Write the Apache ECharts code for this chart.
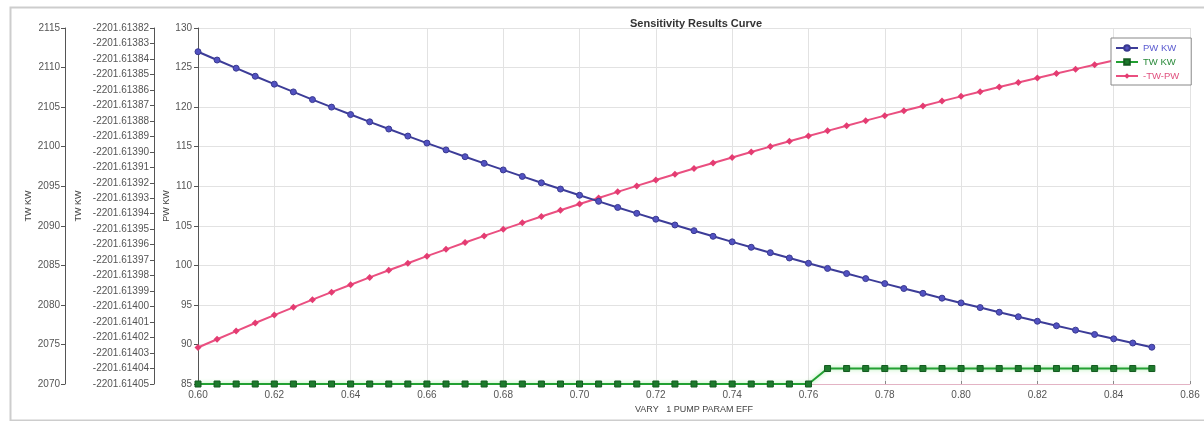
<!DOCTYPE html>
<html>
<head>
<meta charset="utf-8">
<script src="https://cdn.jsdelivr.net/npm/echarts@6/dist/echarts.min.js"></script>
<style>
  html, body { margin: 0; padding: 0; background: #fff; }
  #chart { width: 1204px; height: 421px; }
</style>
</head>
<body>
<div id="chart"></div>
<script>
// Pump efficiency sweep (x) and resulting powers
const effVals = [0.600, 0.605, 0.610, 0.615, 0.620, 0.625, 0.630, 0.635, 0.640, 0.645,
  0.650, 0.655, 0.660, 0.665, 0.670, 0.675, 0.680, 0.685, 0.690, 0.695,
  0.700, 0.705, 0.710, 0.715, 0.720, 0.725, 0.730, 0.735, 0.740, 0.745,
  0.750, 0.755, 0.760, 0.765, 0.770, 0.775, 0.780, 0.785, 0.790, 0.795,
  0.800, 0.805, 0.810, 0.815, 0.820, 0.825, 0.830, 0.835, 0.840, 0.845, 0.850];

const pwKw = [127.00, 125.95, 124.92, 123.90, 122.90, 121.92, 120.95, 120.00, 119.06, 118.14,
  117.23, 116.34, 115.45, 114.59, 113.73, 112.89, 112.06, 111.24, 110.43, 109.64,
  108.86, 108.09, 107.32, 106.57, 105.83, 105.10, 104.38, 103.67, 102.97, 102.28,
  101.60, 100.93, 100.26, 99.61, 98.96, 98.32, 97.69, 97.07, 96.46, 95.85,
  95.25, 94.66, 94.07, 93.50, 92.93, 92.36, 91.81, 91.26, 90.71, 90.18, 89.65];

const twKw = [-2201.61405, -2201.61405, -2201.61405, -2201.61405, -2201.61405, -2201.61405, -2201.61405, -2201.61405, -2201.61405, -2201.61405,
  -2201.61405, -2201.61405, -2201.61405, -2201.61405, -2201.61405, -2201.61405, -2201.61405, -2201.61405, -2201.61405, -2201.61405,
  -2201.61405, -2201.61405, -2201.61405, -2201.61405, -2201.61405, -2201.61405, -2201.61405, -2201.61405, -2201.61405, -2201.61405,
  -2201.61405, -2201.61405, -2201.61405, -2201.61404, -2201.61404, -2201.61404, -2201.61404, -2201.61404, -2201.61404, -2201.61404,
  -2201.61404, -2201.61404, -2201.61404, -2201.61404, -2201.61404, -2201.61404, -2201.61404, -2201.61404, -2201.61404, -2201.61404, -2201.61404];

const negTwPw = [2074.61, 2075.66, 2076.69, 2077.71, 2078.71, 2079.69, 2080.66, 2081.61, 2082.55, 2083.47,
  2084.38, 2085.27, 2086.16, 2087.02, 2087.88, 2088.72, 2089.55, 2090.37, 2091.18, 2091.97,
  2092.75, 2093.52, 2094.29, 2095.04, 2095.78, 2096.51, 2097.23, 2097.94, 2098.64, 2099.33,
  2100.01, 2100.68, 2101.35, 2102.00, 2102.65, 2103.29, 2103.92, 2104.54, 2105.15, 2105.76,
  2106.36, 2106.95, 2107.54, 2108.11, 2108.68, 2109.25, 2109.80, 2110.35, 2110.90, 2111.43, 2111.96];

const seriesNames = ['PW KW', 'TW KW', '-TW-PW'];
const axisNames = ['PW KW', 'TW KW', 'TW KW'];

const pairs = ys => effVals.map((x, i) => [x, ys[i]]);

const labelStyle = { fontFamily: 'Liberation Sans', fontSize: 10, color: '#555' };
const nameStyle = { fontFamily: 'Liberation Sans', fontSize: 9, color: '#444' };
const axisLine = { show: true, lineStyle: { color: '#555', width: 1 } };
const axisTick = { show: true, length: 4, lineStyle: { color: '#555' } };

const chart = echarts.init(document.getElementById('chart'), null, { renderer: 'canvas' });

chart.setOption({
  animation: false,
  backgroundColor: '#fff',
  graphic: [{
    type: 'rect',
    left: 8, top: 5,
    shape: { x: 0, y: 0, width: 1205, height: 413 },
    style: { fill: 'none', stroke: '#cdcdcd', lineWidth: 2 },
    silent: true, z: -10
  }],
  title: {
    text: 'Sensitivity Results Curve',
    left: 691, top: 13, textAlign: 'center',
    textStyle: { fontFamily: 'Liberation Sans', fontSize: 11, fontWeight: 'bold', color: '#333' }
  },
  legend: {
    orient: 'vertical',
    left: 1111, top: 38,
    padding: [5, 12, 4, 4],
    itemGap: 4,
    itemWidth: 22, itemHeight: 7,
    borderColor: '#888', borderWidth: 1,
    backgroundColor: '#fff',
    data: [
      { name: seriesNames[0], textStyle: { color: '#5a5ad0' } },
      { name: seriesNames[1], textStyle: { color: '#2a8a3a' } },
      { name: seriesNames[2], textStyle: { color: '#e0507e' } }
    ],
    textStyle: { fontFamily: 'Liberation Sans', fontSize: 9.5 }
  },
  grid: { left: 198, right: 14, top: 28, bottom: 37, containLabel: false },
  xAxis: {
    type: 'value',
    min: 0.60, max: 0.86, interval: 0.02,
    name: 'VARY   1 PUMP PARAM EFF',
    nameLocation: 'middle', nameGap: 20,
    nameTextStyle: nameStyle,
    axisLine: { show: true, lineStyle: { color: '#e3b3c4', width: 1 } },
    axisTick: { show: true, inside: true, length: 3, lineStyle: { color: '#888' } },
    axisLabel: Object.assign({ margin: 6, formatter: v => v.toFixed(2) }, labelStyle),
    splitLine: { show: true, lineStyle: { color: '#e2e2e2', width: 1 } }
  },
  yAxis: [
    {
      type: 'value', position: 'left', offset: 0,
      min: 85, max: 130, interval: 5,
      name: axisNames[0], nameLocation: 'middle', nameGap: 27, nameMoveOverlap: false,
      nameTextStyle: nameStyle,
      axisLine, axisTick,
      axisLabel: Object.assign({ margin: 6, formatter: v => String(v) }, labelStyle),
      splitLine: { show: true, lineStyle: { color: '#e2e2e2', width: 1 } }
    },
    {
      type: 'value', position: 'left', offset: 44,
      min: -2201.61405, max: -2201.61382, interval: 0.00001,
      name: axisNames[1], nameLocation: 'middle', nameGap: 71, nameMoveOverlap: false,
      nameTextStyle: nameStyle,
      axisLine, axisTick,
      axisLabel: Object.assign({ margin: 5, formatter: v => v.toFixed(5) }, labelStyle),
      splitLine: { show: false }
    },
    {
      type: 'value', position: 'left', offset: 133,
      min: 2070, max: 2115, interval: 5,
      name: axisNames[2], nameLocation: 'middle', nameGap: 32, nameMoveOverlap: false,
      nameTextStyle: nameStyle,
      axisLine, axisTick,
      axisLabel: Object.assign({ margin: 5, formatter: v => String(v) }, labelStyle),
      splitLine: { show: false }
    }
  ],
  series: [
    {
      name: seriesNames[0], type: 'line', yAxisIndex: 0,
      data: pairs(pwKw),
      symbol: 'circle', symbolSize: 6,
      color: '#4a4ab4',
      lineStyle: { color: '#3c3c98', width: 2 },
      itemStyle: { color: '#5252c2', borderColor: '#3a3a90', borderWidth: 1 },
      z: 3
    },
    {
      name: seriesNames[1], type: 'line', yAxisIndex: 1,
      data: pairs(twKw),
      symbol: 'rect', symbolSize: 6,
      color: '#1e7a2c',
      lineStyle: { color: '#22a032', width: 2, shadowColor: 'rgba(120,230,120,0.7)', shadowBlur: 4 },
      itemStyle: { color: '#1d7a2c', borderColor: '#145a20', borderWidth: 1 },
      z: 4
    },
    {
      name: seriesNames[2], type: 'line', yAxisIndex: 2,
      data: pairs(negTwPw),
      symbol: 'diamond', symbolSize: 7,
      color: '#e8457a',
      lineStyle: { color: '#ea4f80', width: 2 },
      itemStyle: { color: '#e43c72' },
      z: 2
    }
  ]
});
</script>
</body>
</html>
